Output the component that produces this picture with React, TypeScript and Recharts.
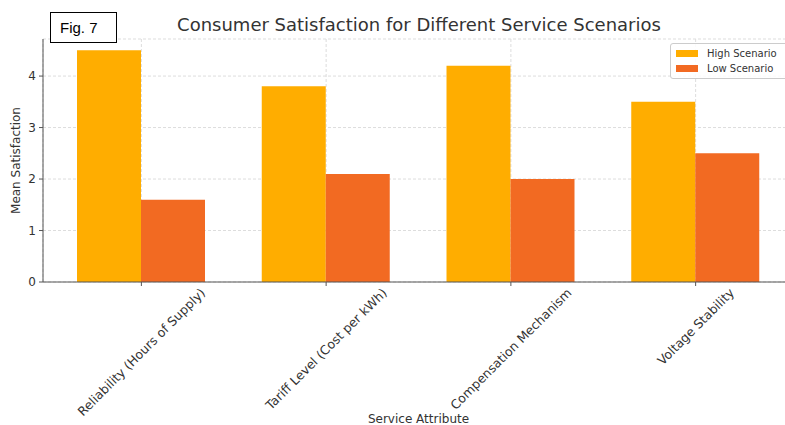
import { BarChart, Bar, XAxis, YAxis, CartesianGrid, Legend } from 'recharts'

const attributes = [
  'Reliability (Hours of Supply)',
  'Tariff Level (Cost per kWh)',
  'Compensation Mechanism',
  'Voltage Stability',
]
const highScenario = [4.5, 3.8, 4.2, 3.5]
const lowScenario = [1.6, 2.1, 2.0, 2.5]
const yTicks = [0, 1, 2, 3, 4]

const data = attributes.map((name, i) => ({ name, high: highScenario[i], low: lowScenario[i] }))

const FONT = '"DejaVu Sans", sans-serif'
const TEXT = '#333'
const AXIS = '#555'

let ctx: CanvasRenderingContext2D | null = null
function textWidth(t: string, font: string) {
  if (!ctx) ctx = document.createElement('canvas').getContext('2d')
  if (!ctx) return t.length * 7
  ctx.font = font
  return ctx.measureText(t).width
}

// matplotlib style: rotated 45deg, bbox centred under the tick
function CategoryTick(props: any) {
  const { x, y, payload } = props
  const fs = 12.5
  const L = textWidth(payload.value, `${fs}px "DejaVu Sans"`)
  const h = (L + fs) * Math.SQRT1_2
  const cy = y - 3 + h / 2
  return (
    <text x={x} y={cy} textAnchor="middle" dominantBaseline="central"
      transform={`rotate(-45 ${x} ${cy})`} fontSize={fs} fill={TEXT} fontFamily={FONT}>
      {payload.value}
    </text>
  )
}

function LegendBox({ payload }: any) {
  return (
    <div style={{ border: '1px solid #ccc', borderRadius: 3, background: 'rgba(255,255,255,0.85)',
      width: 125, padding: '2px 0 2px 5px', fontFamily: FONT, fontSize: 10, color: TEXT, boxSizing: 'border-box' }}>
      {(payload || []).map((p: any) => (
        <div key={p.value} style={{ display: 'flex', alignItems: 'center', height: 15, whiteSpace: 'nowrap' }}>
          <span style={{ display: 'inline-block', width: 22, height: 7, background: p.color, marginRight: 9 }} />
          <span>{p.value}</span>
        </div>
      ))}
    </div>
  )
}

export default function App() {
  return (
    <div style={{ position: 'absolute', left: 0, top: 0, width: 785, height: 425, overflow: 'hidden', background: '#fff' }}>
      <BarChart width={800} height={425} data={data}
        margin={{ top: 39, right: 6, bottom: 113, left: 0 }}
        barCategoryGap={28} barGap={0}>
        <CartesianGrid stroke="#ddd" strokeDasharray="3 2" />
        <XAxis dataKey="name" interval={0} padding={{ left: 6, right: 6 }} height={30}
          tick={<CategoryTick />} tickSize={4} tickMargin={3}
          axisLine={{ stroke: AXIS }} tickLine={{ stroke: AXIS }}
          label={{ value: 'Service Attribute', position: 'bottom', offset: 102,
            style: { fontSize: 12, fill: TEXT, fontFamily: FONT } }} />
        <YAxis width={43} domain={[0, 4.72]} ticks={yTicks} tickSize={4} tickMargin={3}
          tick={{ fontSize: 12, fill: TEXT, fontFamily: FONT }}
          axisLine={{ stroke: AXIS }} tickLine={{ stroke: AXIS }}
          label={{ value: 'Mean Satisfaction', angle: -90, position: 'insideLeft', offset: 16,
            style: { textAnchor: 'middle', fontSize: 12, fill: TEXT, fontFamily: FONT } }} />
        <Legend layout="vertical" align="center" verticalAlign="middle" content={<LegendBox />}
          wrapperStyle={{ position: 'absolute', left: 670, top: 43, width: 125 }} />
        <Bar dataKey="high" name="High Scenario" fill="#FFAD00" isAnimationActive={false} />
        <Bar dataKey="low" name="Low Scenario" fill="#F26A22" isAnimationActive={false} />
      </BarChart>
      <div style={{ position: 'absolute', left: 50, top: 12, width: 67, height: 31, border: '1px solid #000',
        boxSizing: 'border-box', fontFamily: '"Liberation Sans", Arial, sans-serif', fontSize: 15,
        lineHeight: '29px', paddingLeft: 9, background: '#fff', zIndex: 2 }}>Fig. 7</div>
      <div style={{ position: 'absolute', left: 0, width: 838, top: 14, textAlign: 'center',
        fontFamily: FONT, fontSize: 18, color: TEXT, zIndex: 2 }}>
        Consumer Satisfaction for Different Service Scenarios
      </div>
    </div>
  )
}
